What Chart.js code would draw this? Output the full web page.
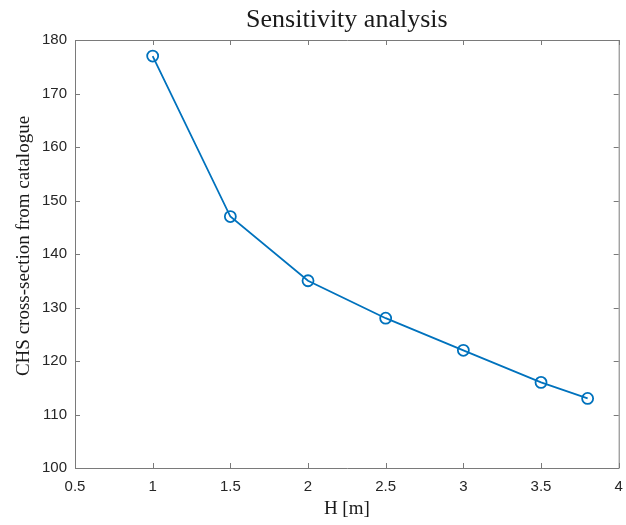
<!DOCTYPE html>
<html>
<head>
<meta charset="utf-8">
<title>Sensitivity analysis</title>
<script src="https://cdn.jsdelivr.net/npm/chart.js@4/dist/chart.umd.min.js"></script>
<style>
  html, body { margin: 0; padding: 0; background: #fff; }
  canvas { display: block; }
</style>
</head>
<body>
<canvas id="sensChart" width="626" height="525"></canvas>
<script>
// --- data ---
const hValues   = [1, 1.5, 2, 2.5, 3, 3.5, 3.8];
const chsValues = [177, 147, 135, 128, 122, 116, 113];

const xRange = { min: 0.5, max: 4, step: 0.5 };
const yRange = { min: 100, max: 180, step: 10 };

const titleText  = 'Sensitivity analysis';
const xLabelText = 'H [m]';
const yLabelText = 'CHS cross-section from catalogue';

const LINE_BLUE = '#0072bd';
const AXIS_GRAY = '#7a7a7a';
const SERIF = '"Liberation Serif", "DejaVu Serif", serif';
const SANS  = '"Liberation Sans", Arial, sans-serif';

// matlab-ish box with inward ticks, plus title / axis labels
const matlabAxes = {
  id: 'matlabAxes',
  afterDraw(chart) {
    const { ctx, chartArea: a, scales: { x, y } } = chart;
    const tl = 5;
    ctx.save();
    ctx.strokeStyle = AXIS_GRAY;
    ctx.lineWidth = 1;
    ctx.beginPath();
    ctx.rect(a.left + 0.5, a.top + 0.5, a.right - a.left, a.bottom - a.top);
    x.ticks.forEach(t => {
      const px = Math.round(x.getPixelForValue(t.value)) + 0.5;
      ctx.moveTo(px, a.bottom); ctx.lineTo(px, a.bottom - tl);
      ctx.moveTo(px, a.top);    ctx.lineTo(px, a.top + tl);
    });
    y.ticks.forEach(t => {
      const py = Math.round(y.getPixelForValue(t.value)) + 0.5;
      ctx.moveTo(a.left, py);  ctx.lineTo(a.left + tl, py);
      ctx.moveTo(a.right, py); ctx.lineTo(a.right - tl, py);
    });
    ctx.stroke();

    ctx.fillStyle = '#1a1a1a';
    ctx.textAlign = 'center';
    ctx.textBaseline = 'alphabetic';
    ctx.font = '26px ' + SERIF;
    ctx.fillText(titleText, (a.left + a.right) / 2, 27);

    ctx.font = '19px ' + SERIF;
    ctx.fillText(xLabelText, (a.left + a.right) / 2, 514);

    ctx.translate(24, 246);
    ctx.rotate(-Math.PI / 2);
    ctx.textBaseline = 'middle';
    ctx.fillText(yLabelText, 0, 0);
    ctx.restore();
  }
};

new Chart(document.getElementById('sensChart'), {
  type: 'line',
  data: {
    labels: hValues,
    datasets: [{
      data: hValues.map((h, i) => ({ x: h, y: chsValues[i] })),
      borderColor: LINE_BLUE,
      borderWidth: 1.8,
      backgroundColor: 'rgba(0,0,0,0)',
      pointBorderColor: LINE_BLUE,
      pointBackgroundColor: 'rgba(0,0,0,0)',
      pointBorderWidth: 1.8,
      pointRadius: 5.5,
      tension: 0,
      fill: false
    }]
  },
  options: {
    responsive: false,
    animation: false,
    layout: { padding: { left: 0, right: 6, top: 40, bottom: 0 } },
    plugins: { legend: { display: false }, tooltip: { enabled: false }, title: { display: false } },
    scales: {
      x: {
        type: 'linear',
        min: xRange.min, max: xRange.max,
        grid: { display: false, drawTicks: false },
        border: { display: false },
        ticks: {
          stepSize: xRange.step, padding: 10, color: '#262626',
          font: { family: SANS, size: 15 }, maxRotation: 0,
          callback: v => String(+v.toFixed(2))
        },
        // fixed box so the plot area matches the figure
        afterFit(s) { s.height = 57; s.paddingRight = 0; s.paddingLeft = 0; }
      },
      y: {
        min: yRange.min, max: yRange.max,
        grid: { display: false, drawTicks: false },
        border: { display: false },
        ticks: { stepSize: yRange.step, padding: 8, color: '#262626', font: { family: SANS, size: 15 } },
        afterFit(s) { s.width = 75; s.paddingTop = 0; s.paddingBottom = 0; }
      }
    }
  },
  plugins: [matlabAxes]
});
</script>
</body>
</html>
